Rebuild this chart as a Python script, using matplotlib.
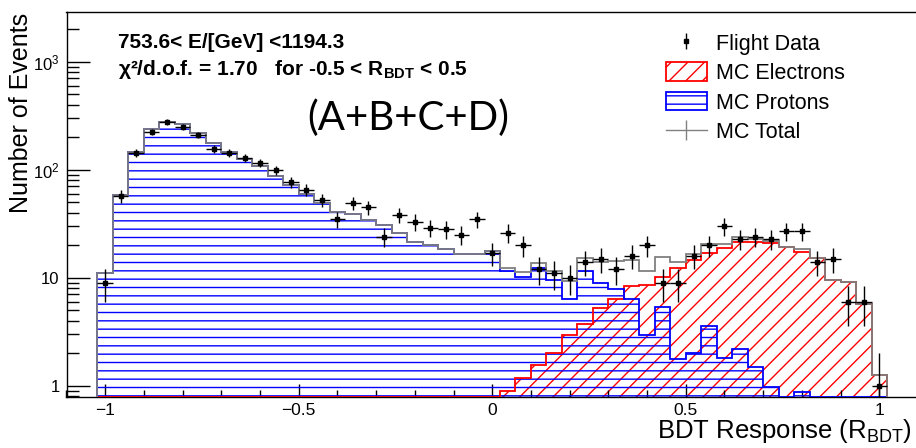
import numpy as np
import matplotlib
matplotlib.use("Agg")
import matplotlib.pyplot as plt
from matplotlib.patches import Patch
from matplotlib.lines import Line2D
from matplotlib.legend_handler import HandlerTuple
from matplotlib.ticker import FixedLocator, FixedFormatter, LogLocator, NullFormatter, MultipleLocator

plt.rcParams['font.family'] = ['Liberation Sans', 'DejaVu Sans']
plt.rcParams['mathtext.fontset'] = 'custom'
plt.rcParams['mathtext.rm'] = 'Liberation Sans'
plt.rcParams['mathtext.bf'] = 'Liberation Sans:bold'
plt.rcParams['mathtext.it'] = 'Liberation Sans:italic'
plt.rcParams['hatch.linewidth'] = 1.0

# BDT response binning: 51 bins of width 0.04
bin_lo, bin_hi, n_bins = -1.02, 1.02, 51

# flight data counts per bin
flight_data = [9, 57, 142, 222, 275, 247, 210, 155, 144, 128,
               116, 99, 77, 65, 52, 35, 49, 45, 24, 38,
               33, 29, 28, 25, 35, 17, 26, 20, 12, 11,
               10, 14, 15, 12, 16, 20, 9, 9, 16, 20,
               30, 23, 24, 23, 27, 27, 14, 15, 6, 6,
               1]

# MC electrons (zero below R_BDT ~ 0)
mc_electrons = [0] * 26 + [0.9, 1.17, 1.55, 2.0,
                           2.95, 3.7, 5.2, 6.4, 8.3, 8.5, 10.1, 12.2, 14.6, 16.8,
                           18.7, 21.5, 21.5, 20.8, 19.4, 17.4, 15.1, 9.5, 9.2, 5.7,
                           1.26]

# MC protons
mc_protons = [11.1, 58, 147, 237, 278, 263, 217, 178, 147, 125,
              108, 88, 72, 60, 49.5, 40.5, 38.5, 34.5, 30.5, 26,
              21.5, 20, 18.3, 16.6, 16.6, 17.7, 11.4, 10.2, 12.2, 9.5,
              6.4, 11.4, 8.9, 7.8, 6.4, 2.95, 5.4, 1.75, 2.0, 3.6,
              1.8, 2.2, 1.5, 0.98, 0, 0.88, 0, 0, 0, 0,
              0]

x_ticks = [-1, -0.5, 0, 0.5, 1]
x_ticklabels = ['\u22121', '\u22120.5', '0', '0.5', '1']
y_ticks = [1, 10, 100, 1000]
y_ticklabels = ['1', '10', r'$\mathregular{10^{2}}$', r'$\mathregular{10^{3}}$']

y_lo, y_hi = 0.78, 2900

edges = np.linspace(bin_lo, bin_hi, n_bins + 1)
centers = 0.5 * (edges[:-1] + edges[1:])
data = np.array(flight_data, dtype=float)
ele = np.array(mc_electrons, dtype=float)
pro = np.array(mc_protons, dtype=float)
tot = ele + pro

W, H = 916, 448
fig = plt.figure(figsize=(W / 100, H / 100), dpi=100)
ax = fig.add_axes([66.5 / W, 1 - 397.3 / H, (918 - 66.5) / W, (397.3 - 11.7) / H])
ax.set_yscale('log')
ax.set_xlim(-1.1, 1.1)
ax.set_ylim(y_lo, y_hi)

# values that are zero sit on the bottom of the frame, like ROOT does
ele_d = np.maximum(ele, y_lo)
pro_d = np.maximum(pro, y_lo)
tot_d = np.maximum(tot, y_lo)

ax.stairs(ele_d, edges, baseline=y_lo, fill=True, facecolor='none',
          edgecolor='red', hatch='//', linewidth=0, zorder=1)
ax.stairs(pro_d, edges, baseline=y_lo, fill=True, facecolor='none',
          edgecolor='blue', hatch='--', linewidth=0, zorder=2)
ax.stairs(ele_d, edges, baseline=y_lo, color='red', linewidth=1.3, zorder=3)
ax.stairs(pro_d, edges, baseline=y_lo, color='blue', linewidth=1.3, zorder=4)
ax.stairs(tot_d, edges, baseline=y_lo, color='gray', linewidth=1.3, zorder=5)

ax.errorbar(centers, data, xerr=0.02, yerr=np.sqrt(data), fmt='s', color='black',
            ms=3.5, elinewidth=1.0, capsize=0, zorder=6)

ax.xaxis.set_major_locator(FixedLocator(x_ticks))
ax.xaxis.set_major_formatter(FixedFormatter(x_ticklabels))
ax.xaxis.set_minor_locator(MultipleLocator(0.1))
ax.yaxis.set_major_locator(FixedLocator(y_ticks))
ax.yaxis.set_major_formatter(FixedFormatter(y_ticklabels))
ax.yaxis.set_minor_locator(LogLocator(base=10, subs=np.arange(2, 10), numticks=30))
ax.yaxis.set_minor_formatter(NullFormatter())

ax.tick_params(axis='both', which='both', direction='in', width=1)
ax.tick_params(axis='x', which='major', length=9.5, pad=4, labelsize=12.5)
ax.tick_params(axis='x', which='minor', length=5)
ax.tick_params(axis='y', which='major', length=16.5, pad=5, labelsize=12)
ax.tick_params(axis='y', which='minor', length=8.5)
for s in ax.spines.values():
    s.set_linewidth(1.0)

fig.text(912 / W, 1 - 438 / H, r'BDT Response (R$_{\mathrm{BDT}}$)', fontsize=18.5,
         ha='right', va='baseline')
fig.text(21 / W, 1 - 13 / H, 'Number of Events', fontsize=18, rotation=90,
         ha='center', va='top')

fig.text(118.3 / W, 1 - 48.3 / H, '753.6< E/[GeV] <1194.3', fontsize=15,
         fontweight='bold', va='baseline')
fig.text(118.3 / W, 1 - 75 / H,
         '\u03c7\u00b2/d.o.f. = 1.70   for -0.5 < R$_{\\mathbf{BDT}}$ < 0.5',
         fontsize=15, fontweight='bold', va='baseline')
fig.text(408.5 / W, 1 - 118 / H, '(A+B+C+D)', fontsize=29, family='Lato',
         ha='center', va='center')

h_data = (Line2D([], [], color='black', marker='s', ms=3.5, ls='none'),
          Line2D([], [], color='black', marker='|', ms=12, mew=1.0, ls='none'))
h_ele = Patch(facecolor='white', edgecolor='red', hatch='//', linewidth=1.3)
h_pro = Patch(facecolor='white', edgecolor='blue', hatch='--', linewidth=1.3)
h_tot = Line2D([], [], color='gray', marker='|', ms=14, mew=1.0, lw=1.0)
fig.legend([h_data, h_ele, h_pro, h_tot],
           ['Flight Data', 'MC Electrons', 'MC Protons', 'MC Total'],
           handler_map={tuple: HandlerTuple(ndivide=1)},
           loc='upper left', bbox_to_anchor=(666 / W, 1 - 33 / H),
           frameon=False, fontsize=15.5, borderpad=0, borderaxespad=0,
           handlelength=1.9, handleheight=0.95, handletextpad=0.42,
           labelspacing=0.36)

fig.savefig('out.png', dpi=100)
